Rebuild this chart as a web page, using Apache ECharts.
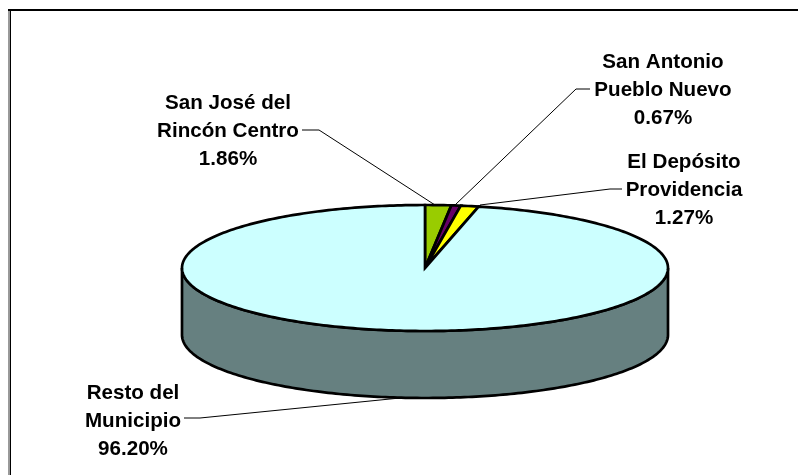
<!DOCTYPE html>
<html>
<head>
<meta charset="utf-8">
<style>html,body{margin:0;padding:0;background:#fff}#c{width:798px;height:475px}</style>
<script src="https://cdn.jsdelivr.net/npm/echarts@6/dist/echarts.min.js"></script>
</head>
<body>
<div id="c"></div>
<script>
const categories = ['San José del\nRincón Centro', 'San Antonio\nPueblo Nuevo', 'El Depósito\nProvidencia', 'Resto del\nMunicipio'];
const shares = [1.86, 0.67, 1.27, 96.20];
const colors = ['#99CC00', '#660066', '#FFFF00', '#CCFFFF'];
const wallColor = '#668080';

// layout
const C = {x: 425, y: 268, rx: 243, ry: 63, depth: 67, persp: 0.07};
const labelPos = [[228, 131], [663, 90], [684, 190], [133, 421]];
const leaders = [
  [[435, 205], [319, 130], [302, 130]],
  [[455, 205], [576, 89], [590, 89]],
  [[480, 205], [610, 189], [622, 189]],
  [[400, 398], [200, 418], [184, 418]]
];

const total = shares.reduce((a, b) => a + b, 0);
const project = t => t - C.persp * Math.sin(t) * Math.cos(t);
const rim = (t, dy) => {
  const p = project(t);
  return [C.x + C.rx * Math.sin(p), C.y - C.ry * Math.cos(p) + (dy || 0)];
};
const arc = (a, b, dy) => {
  const n = Math.max(2, Math.ceil((b - a) / (Math.PI / 180)));
  const pts = [];
  for (let i = 0; i <= n; i++) pts.push(rim(a + (b - a) * i / n, dy));
  return pts;
};

function renderItem(params, api) {
  const i = api.value(0);
  let before = 0;
  for (let k = 0; k < i; k++) before += shares[k];
  const a0 = before / total * 2 * Math.PI;
  const a1 = (before + api.value(1)) / total * 2 * Math.PI;
  const children = [];
  const w0 = Math.max(a0, Math.PI / 2), w1 = Math.min(a1, Math.PI * 1.5);
  if (w1 > w0) {
    const wall = arc(w0, w1, 0).concat(arc(w0, w1, C.depth).reverse());
    children.push({type: 'polygon', shape: {points: wall},
      style: {fill: wallColor, stroke: '#000', lineWidth: 2.7}});
  }
  children.push({type: 'polygon', shape: {points: [[C.x, C.y]].concat(arc(a0, a1, 0))},
    style: {fill: colors[i], stroke: '#000', lineWidth: 2.7, lineJoin: 'miter'}});
  children.push({type: 'polyline', shape: {points: leaders[i]},
    style: {fill: null, stroke: '#000', lineWidth: 1}});
  children.push({type: 'text', style: {
    text: categories[i] + '\n' + api.value(1).toFixed(2) + '%',
    x: labelPos[i][0], y: labelPos[i][1],
    align: 'center', verticalAlign: 'middle',
    font: 'bold 20.6px "Liberation Sans", Arial, sans-serif',
    lineHeight: 28, fill: '#000'
  }});
  return {type: 'group', children};
}

const chart = echarts.init(document.getElementById('c'), null, {renderer: 'canvas'});
chart.setOption({
  animation: false,
  backgroundColor: '#fff',
  graphic: [
    {type: 'line', silent: true, shape: {x1: 9, y1: 10, x2: 9, y2: 480},
     style: {stroke: '#999', lineWidth: 2}},
    {type: 'line', silent: true, shape: {x1: 10.5, y1: 10, x2: 10.5, y2: 480},
     style: {stroke: '#000', lineWidth: 1}},
    {type: 'line', silent: true, shape: {x1: 8, y1: 10, x2: 805, y2: 10},
     style: {stroke: '#000', lineWidth: 2}}
  ],
  series: [{
    type: 'custom',
    coordinateSystem: 'none',
    renderItem,
    data: shares.map((v, i) => [i, v])
  }]
});
</script>
</body>
</html>
